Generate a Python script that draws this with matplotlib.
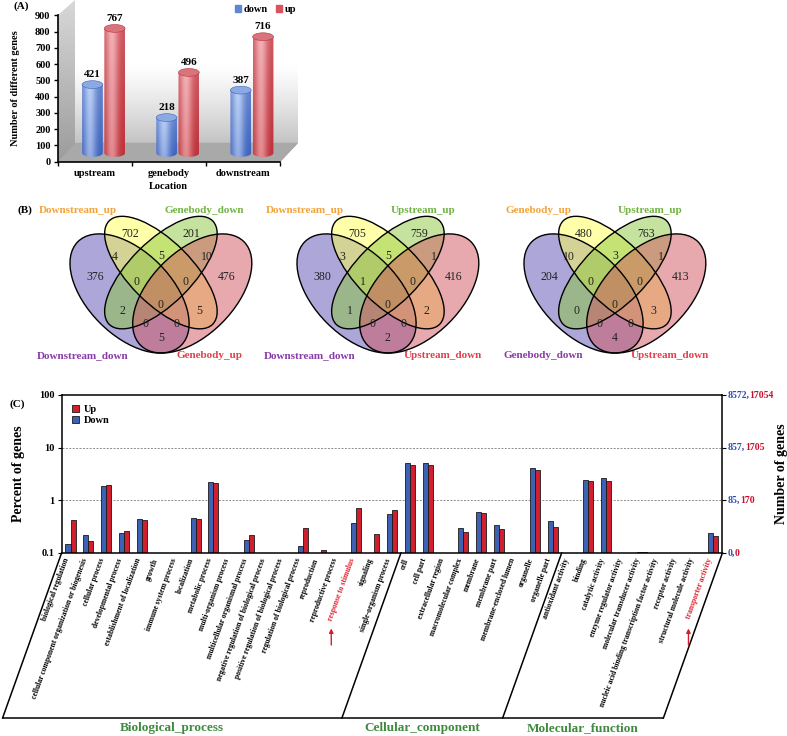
import numpy as np
import matplotlib
matplotlib.use("Agg")
import matplotlib.pyplot as plt
from matplotlib import transforms
from matplotlib.colors import to_rgb
from matplotlib.lines import Line2D
from matplotlib.patches import Ellipse, Polygon, Patch

plt.rcParams['font.family'] = ['Liberation Serif', 'DejaVu Serif']
plt.rcParams['font.weight'] = 'bold'
plt.rcParams['axes.labelweight'] = 'bold'

# ---------------- data ----------------
# (A) number of differentially methylated genes per location
locations = ['upstream', 'genebody', 'downstream']
n_down = [421, 218, 387]
n_up = [767, 496, 716]

# (B) four-set Venn diagrams: labels (top-left, top-right, bottom-left, bottom-right)
venn_labels = [
    ['Downstream_up', 'Genebody_down', 'Downstream_down', 'Genebody_up'],
    ['Downstream_up', 'Upstream_up', 'Downstream_down', 'Upstream_down'],
    ['Genebody_up', 'Upstream_up', 'Genebody_down', 'Upstream_down'],
]
# region counts, same region order in every diagram
venn1_counts = [376, 702, 201, 476, 4, 5, 10, 0, 0, 2, 0, 5, 0, 0, 5]
venn2_counts = [380, 705, 759, 416, 3, 5, 1, 1, 0, 1, 0, 2, 0, 0, 2]
venn3_counts = [204, 480, 763, 413, 10, 3, 1, 0, 0, 0, 0, 3, 0, 0, 4]

# (C) GO classification
go_terms = [
    'biological regulation', 'cellular component organization or biogenesis',
    'cellular process', 'developmental process', 'establishment of localization',
    'growth', 'immune system process', 'localization', 'metabolic process',
    'multi-organism process', 'multicellular organismal process',
    'negative regulation of biological process', 'positive regulation of biological process',
    'regulation of biological process', 'reproduction', 'reproductive process',
    'response to stimulus', 'signaling', 'single-organism process',
    'cell', 'cell part', 'extracellular region', 'macromolecular complex', 'membrane',
    'membrane part', 'membrane-enclosed lumen', 'organelle', 'organelle part',
    'antioxidant activity', 'binding', 'catalytic activity', 'enzyme regulator activity',
    'molecular transducer activity', 'nucleic acid binding transcription factor activity',
    'receptor activity', 'structural molecule activity', 'transporter activity',
]
go_groups = ['Biological_process', 'Cellular_component', 'Molecular_function']
go_group_sizes = [19, 9, 9]
pct_down = [0.147, 0.217, 1.84, 0.24, 0.436, 0, 0, 0.46, 2.22, 0, 0.18, 0, 0, 0.136, 0, 0,
            0.378, 0, 0.55,
            5.09, 5.09, 0, 0.303, 0.61, 0.346, 0, 4.09, 0.412,
            0, 2.47, 2.69, 0, 0.103, 0, 0, 0, 0.244]
pct_up = [0.43, 0.168, 1.98, 0.26, 0.43, 0, 0, 0.45, 2.16, 0, 0.224, 0, 0, 0.295, 0.114, 0,
          0.716, 0.227, 0.665,
          4.67, 4.67, 0, 0.251, 0.575, 0.29, 0, 3.7, 0.313,
          0, 2.36, 2.36, 0, 0.104, 0, 0, 0, 0.208]
pct_ticks = [0.1, 1, 10, 100]
pct_tick_labels = ['0.1', '1', '10', '100']
genes_down_labels = ['0', '85', '857', '8572']
genes_up_labels = ['0', '170', '1705', '17054']
highlight_terms = ['response to stimulus', 'transporter activity']

BLUE = '#3D62B3'
RED = '#D11F2E'
W, H = 787, 736

fig = plt.figure(figsize=(W / 100, H / 100), dpi=100)


def px_axes(l, t, r, b, **kw):
    return fig.add_axes([l / W, 1 - b / H, (r - l) / W, (b - t) / H], **kw)


# ---------------- (A) 3-D style cylinder chart ----------------
bg = fig.add_axes([0, 0, 1, 1], zorder=-5)
bg.axis('off')
g = np.linspace(0, 1, 100)[:, None, None]
side = np.array(to_rgb('#D8D8D8')) * (1 - g) + np.array(to_rgb('#9C9C9C')) * g
im = bg.imshow(np.repeat(side, 2, axis=1), extent=(57.5, 75, 162, 0), aspect='auto')
sw = Polygon([(57.5, 15.5), (75, 0), (75, 143.2), (57.5, 161.7)], transform=bg.transData)
im.set_clip_path(sw)
gb = np.clip((g - 0.45) / 0.55, 0, 1) ** 1.2
back = np.array([1.0, 1.0, 1.0]) * (1 - gb) + np.array(to_rgb('#C4C4C4')) * gb
bg.imshow(np.repeat(back, 2, axis=1), extent=(75, 297.5, 143.2, 2), aspect='auto')
bg.add_patch(Polygon([(57.5, 161.7), (280, 161.7), (297.5, 143.2), (75, 143.2)],
                     facecolor='#A9A9A9', edgecolor='#9A9A9A', lw=0.5))
bg.set_xlim(0, W)
bg.set_ylim(H, 0)

axA = px_axes(57.5, 15.5, 280, 161.7)
axA.patch.set_alpha(0)
trA = axA.transData + transforms.ScaledTranslation(9 / 100, 8.7 / 100, fig.dpi_scale_trans)


def cylinder(ax, tr, xc, w, v, dark, light, cap):
    cap_h = 48
    x0, x1 = xc - w / 2, xc + w / 2
    u = np.linspace(0, 1, 40)
    hl = np.exp(-((u - 0.38) / 0.3) ** 2)
    vv = np.linspace(1, 0, 60)[:, None]
    mix = np.clip(0.1 + 0.7 * hl[None, :] + 0.3 * (vv - 0.4), 0, 1)[..., None]
    d, lt = np.array(to_rgb(dark)), np.array(to_rgb(light))
    img = d + (lt - d) * mix
    body = ax.imshow(img, extent=(x0, x1, -cap_h / 2, v), aspect='auto',
                     interpolation='bilinear', zorder=3)
    body.set_transform(tr)
    t = np.linspace(0, np.pi, 30)
    bottom = np.column_stack([xc - w / 2 * np.cos(t), -cap_h / 2 * np.sin(t)])
    verts = [(x0, v)] + bottom.tolist() + [(x1, v)]
    clip = Polygon(verts, closed=True, transform=tr)
    body.set_clip_path(clip)
    ax.add_patch(Ellipse((xc, v), w, cap_h, transform=tr, facecolor=cap,
                         edgecolor=dark, lw=0.4, zorder=4))
    ax.annotate(f'{v}', xy=(xc, v), xycoords=tr, xytext=(0, 4), textcoords='offset points',
                ha='center', va='bottom', fontsize=8, zorder=5)


bw = 0.28
for i in range(len(locations)):
    cylinder(axA, trA, i - 0.15, bw, n_down[i], '#3E63BE', '#BCD1F5', '#8DA9E2')
    cylinder(axA, trA, i + 0.15, bw, n_up[i], '#BE323B', '#F4B3B8', '#D9747C')

axA.set_xlim(-0.5, len(locations) - 0.5)
axA.set_ylim(0, 900)
axA.set_yticks(range(0, 901, 100))
axA.set_xticks(np.arange(-0.5, len(locations), 1.0))
axA.set_xticklabels([])
axA.set_xticks(range(len(locations)), minor=True)
axA.set_xticklabels(locations, minor=True)
axA.tick_params(axis='x', which='minor', length=0, pad=5, labelsize=7.5)
axA.tick_params(axis='x', which='major', length=3, width=1)
axA.tick_params(axis='y', length=3, width=1, labelsize=7.5, pad=2)
for s in ['top', 'right']:
    axA.spines[s].set_visible(False)
for s in ['left', 'bottom']:
    axA.spines[s].set_linewidth(1.2)
axA.set_ylabel('Number of different genes', fontsize=7.5)
axA.yaxis.set_label_coords((20 - 57.5) / 222.5, 0.5)
axA.set_xlabel('Location', fontsize=7.5)
axA.xaxis.set_label_coords(0.5, (161.7 - 182) / 146.2)
axA.legend(handles=[Patch(color='#5F86D6', label='down'), Patch(color='#D9545C', label='up')],
           ncol=2, loc='upper right', bbox_to_anchor=(302 / W, 1 - 0 / H),
           bbox_transform=fig.transFigure, frameon=False, fontsize=7.5,
           handlelength=0.55, handleheight=0.55, handletextpad=0.3,
           columnspacing=0.8, borderpad=0)

# ---------------- (B) Venn diagrams ----------------
venn_counts = [venn1_counts, venn2_counts, venn3_counts]
region_xy = [(0.185, 0.549), (0.352, 0.754), (0.648, 0.754), (0.815, 0.549),
             (0.280, 0.644), (0.5, 0.648), (0.72, 0.644), (0.381, 0.524), (0.619, 0.524),
             (0.318, 0.386), (0.5, 0.414), (0.682, 0.386), (0.427, 0.324), (0.573, 0.324),
             (0.5, 0.256)]
ellipses = [((0.35, 0.47), 0.70, 0.40, -45, '#5B4FB5'),
            ((0.50, 0.57), 0.70, 0.30, -45, '#FFFF55'),
            ((0.50, 0.57), 0.70, 0.30, 45, '#8DC640'),
            ((0.65, 0.47), 0.70, 0.40, 45, '#D0555F')]
label_pos = [(0.29, 0.869, 'right'), (0.515, 0.869, 'left'),
             (0.345, 0.171, 'right'), (0.577, 0.171, 'left')]
label_col = ['#F2A33A', '#72B443', '#8A3AA6', '#E0404C']

for k in range(3):
    ax = px_axes(56.4 + 227 * k, 182.7, 265.4 + 227 * k, 391.7)
    ax.set_xlim(0, 1)
    ax.set_ylim(0, 1)
    ax.axis('off')
    for c, w, h, a, col in ellipses:
        ax.add_patch(Ellipse(c, w, h, angle=a, facecolor=col, alpha=0.5, edgecolor='none'))
    for c, w, h, a, col in ellipses:
        ax.add_patch(Ellipse(c, w, h, angle=a, facecolor='none', edgecolor='black', lw=1))
    for (x, y), n in zip(region_xy, venn_counts[k]):
        ax.text(x, y, str(n), ha='center', va='center', fontsize=8.5, fontweight='normal',
                color='#222222')
    for (x, y, ha), name, col in zip(label_pos, venn_labels[k], label_col):
        ax.text(x, y, name, ha=ha, va='center', fontsize=8, color=col)

# ---------------- (C) GO bar chart ----------------
axC = px_axes(61.57, 395, 722.4, 553)
x = np.arange(len(go_terms))
axC.set_yscale('log')
axC.bar(x - 0.14, pct_down, width=0.28, color=BLUE, edgecolor='#1a1a1a', lw=0.6, label='Down')
axC.bar(x + 0.14, pct_up, width=0.28, color=RED, edgecolor='#1a1a1a', lw=0.6, label='Up')
axC.set_ylim(0.1, 100)
axC.set_xlim(-0.5, len(go_terms) - 0.5)
axC.set_yticks(pct_ticks)
axC.set_yticklabels(pct_tick_labels)
axC.minorticks_off()
axC.set_xticks([])
axC.tick_params(axis='y', right=True, length=3, width=0.8, labelsize=7.5, pad=2)
for yv in [1, 10]:
    axC.axhline(yv, color='#8C8C8C', lw=0.7, ls=(0, (2, 1.5)), zorder=0)
for s in axC.spines.values():
    s.set_linewidth(1.1)
axC.set_ylabel('Percent of genes', fontsize=10)
axC.yaxis.set_label_coords((25 - 61.57) / 660.8, 0.5)
axC.text((781 - 61.57) / 660.8, 0.5, 'Number of genes', transform=axC.transAxes,
         rotation=90, ha='center', va='center', fontsize=10)
hb, lb = axC.get_legend_handles_labels()
axC.legend(hb[::-1], lb[::-1], loc='upper left', bbox_to_anchor=(0.004, 0.985),
           frameon=False, fontsize=7.5, handlelength=0.75, handleheight=0.75,
           handletextpad=0.4, labelspacing=0.15, borderpad=0.2)

rt = axC.get_yaxis_transform()
for yv, bl, rl in zip(pct_ticks, genes_down_labels, genes_up_labels):
    tb = axC.text(1.008, yv, bl + ',', transform=rt, ha='left', va='center',
                  fontsize=7, color='#3050B0')
    axC.annotate(rl, xy=(1, 0.5), xycoords=tb, ha='left', va='center',
                 fontsize=7, color='#C8102E')

xt = axC.get_xaxis_transform()
for i, term in enumerate(go_terms):
    axC.text(i - 0.2, -0.035, term, transform=xt, rotation=70, rotation_mode='anchor',
             ha='right', va='center', fontsize=5.5,
             color='#E0202E' if term in highlight_terms else 'black')
    if term in highlight_terms:
        axC.annotate('', xy=(i - 1.4, -0.46), xytext=(i - 1.4, -0.6), xycoords=xt,
                     arrowprops=dict(arrowstyle='-|>', color='#D0202E', lw=1,
                                     mutation_scale=6), annotation_clip=False)

# slanted frame below the axis, one cell per GO category group
shift_x, drop = 59 / 17.86, -165 / 158
bounds = np.concatenate([[-0.5], np.cumsum(go_group_sizes) - 0.5])
for b in bounds:
    axC.add_line(Line2D([b, b - shift_x], [0, drop], transform=xt, color='black',
                        lw=1.1, clip_on=False))
axC.add_line(Line2D([bounds[0] - shift_x, bounds[-1] - shift_x], [drop, drop], transform=xt,
                    color='black', lw=1.1, clip_on=False))
for name, b0, b1 in zip(go_groups, bounds[:-1], bounds[1:]):
    axC.text((b0 + b1) / 2 - shift_x, drop - 10 / 158, name, transform=xt,
             ha='center', va='center', fontsize=9.5, color='#3E8A3E')

fig.text(14 / W, 1 - 6 / H, '(A)', ha='left', va='center', fontsize=8)
fig.text(17 / W, 1 - 210 / H, '(B)', ha='left', va='center', fontsize=8)
fig.text(9 / W, 1 - 404 / H, '(C)', ha='left', va='center', fontsize=8)

fig.savefig('out.png', dpi=100)
